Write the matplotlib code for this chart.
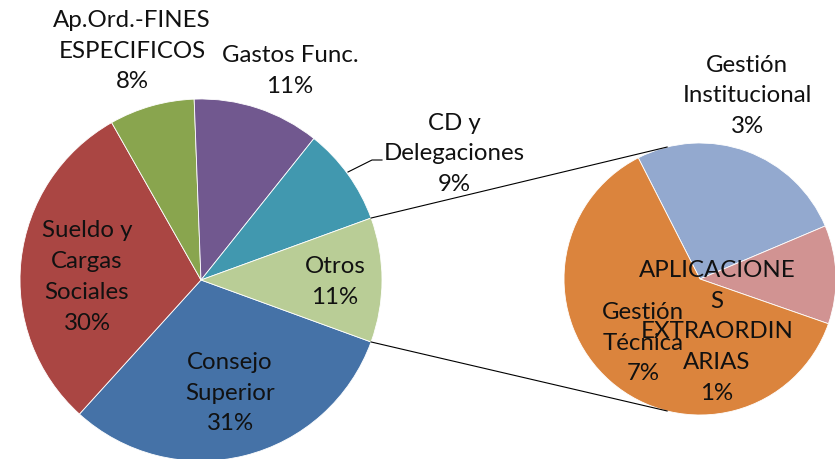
import matplotlib
matplotlib.use("Agg")
import matplotlib.pyplot as plt
import numpy as np

# Main pie data (percent of total)
main_labels = ["Consejo\nSuperior", "Sueldo y\nCargas\nSociales", "Ap.Ord.-FINES\nESPECIFICOS",
               "Gastos Func.", "CD y\nDelegaciones", "Otros"]
main_values = [31.1, 30.0, 7.6, 11.3, 8.7, 11.1]
main_colors = ["#4572A7", "#AA4643", "#89A54E", "#71588F", "#4198AF", "#B9CD96"]

# Secondary pie (breakdown of "Otros")
sub_labels = ["Gestión\nInstitucional", "APLICACIONE\nS\nEXTRAORDIN\nARIAS", "Gestión\nTécnica"]
sub_values = [2.9, 1.3, 6.9]
sub_colors = ["#93A9CF", "#D19392", "#DB843D"]

W, H = 835, 459
fig = plt.figure(figsize=(W / 100, H / 100), dpi=100)
ax = fig.add_axes([0, 0, 1, 1])
plt.rcParams['font.family'] = ['Lato', 'DejaVu Sans']
FS = 17.3
LS = 1.58
TC = "#111111"

main_center = (201, H - 280)
main_r = 181
sub_center = (700, H - 279)
sub_r = 136

total = sum(main_values)
otros_half = main_values[-1] / total * 360 / 2
ax.pie(main_values, colors=main_colors, startangle=-otros_half, counterclock=False,
       center=main_center, radius=main_r,
       wedgeprops=dict(edgecolor="white", linewidth=0.6), frame=True)

ax.pie(sub_values, colors=sub_colors, startangle=117, counterclock=False,
       center=sub_center, radius=sub_r,
       wedgeprops=dict(edgecolor="white", linewidth=0.6), frame=True)

# Connector lines
for sgn in (1, -1):
    a1 = np.deg2rad(sgn * otros_half)
    a2 = np.deg2rad(sgn * 104)
    p1 = (main_center[0] + main_r * np.cos(a1), main_center[1] + main_r * np.sin(a1))
    p2 = (sub_center[0] + sub_r * np.cos(a2), sub_center[1] + sub_r * np.sin(a2))
    ax.plot([p1[0], p2[0]], [p1[1], p2[1]], color="black", lw=0.8)

main_pos = [(230, 393), (87, 277), (132, 51), (290, 71), (454, 154), (335, 282)]
for lab, v, (x, y) in zip(main_labels, main_values, main_pos):
    ax.text(x, H - y, f"{lab}\n{round(v / total * 100):.0f}%", ha="center", va="center",
            fontsize=FS, color=TC, linespacing=LS)

# leader line for CD y Delegaciones
ax.plot([348, 372, 382], [H - 172, H - 160, H - 160], color="black", lw=0.8)

sub_pos = [(747, 96), (717, 332), (643, 343)]
for lab, v, (x, y) in zip(sub_labels, sub_values, sub_pos):
    ax.text(x, H - y, f"{lab}\n{round(v):.0f}%", ha="center", va="center",
            fontsize=FS, color=TC, linespacing=LS)

ax.set_xlim(0, W)
ax.set_ylim(0, H)
ax.set_aspect("equal")
ax.axis("off")
fig.savefig("out.png", dpi=100, facecolor="white")
